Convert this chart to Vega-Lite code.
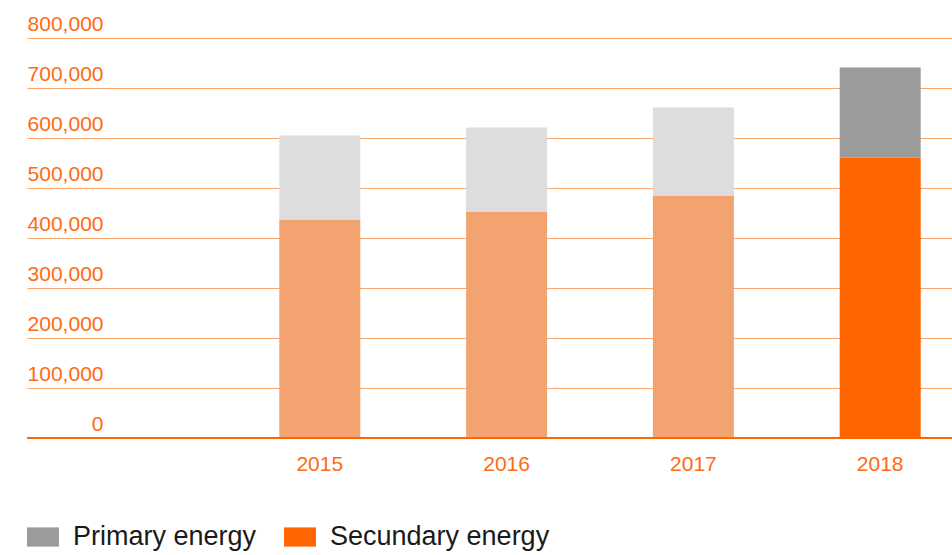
{
  "$schema": "https://vega.github.io/schema/vega-lite/v6.json",
  "autosize": {"type": "none"},
  "padding": {"left": 27, "top": 38, "right": 0, "bottom": 117},
  "width": 925,
  "height": 400,
  "background": "#ffffff",
  "config": {
    "view": {"stroke": null},
    "font": "Liberation Sans"
  },
  "data": {
    "values": [
      {"year": "2015", "series": "Secundary energy (prior)", "value": 437000, "ord": 1},
      {"year": "2015", "series": "Primary energy (prior)", "value": 168000, "ord": 2},
      {"year": "2016", "series": "Secundary energy (prior)", "value": 453000, "ord": 1},
      {"year": "2016", "series": "Primary energy (prior)", "value": 168000, "ord": 2},
      {"year": "2017", "series": "Secundary energy (prior)", "value": 485000, "ord": 1},
      {"year": "2017", "series": "Primary energy (prior)", "value": 176000, "ord": 2},
      {"year": "2018", "series": "Secundary energy", "value": 561000, "ord": 1},
      {"year": "2018", "series": "Primary energy", "value": 180000, "ord": 2}
    ]
  },
  "layer": [
    {
      "mark": {"type": "bar"},
      "encoding": {
        "x": {
          "field": "year",
          "type": "ordinal",
          "scale": {"domain": ["2015", "2016", "2017", "2018"], "paddingInner": 0.5664, "paddingOuter": 0.7591, "align": 0.8896},
          "axis": {
            "title": null,
            "domain": false,
            "ticks": false,
            "labelAngle": 0,
            "labelFont": "Liberation Sans",
            "labelFontSize": 21,
            "labelColor": "#FF6A14",
            "labelPadding": 15
          }
        },
        "y": {
          "field": "value",
          "type": "quantitative",
          "stack": "zero",
          "scale": {"domain": [0, 800000], "nice": false},
          "axis": {
            "title": null,
            "values": [0, 100000, 200000, 300000, 400000, 500000, 600000, 700000, 800000],
            "format": ",d",
            "domain": false,
            "ticks": false,
            "tickSize": 0,
            "grid": true,
            "gridColor": "#F9A66C",
            "gridWidth": 1,
            "labelAlign": "right",
            "labelBaseline": "alphabetic",
            "labelPadding": -76,
            "labelOffset": -8,
            "labelFont": "Liberation Sans",
            "labelFontSize": 21,
            "labelColor": "#FF6A14"
          }
        },
        "order": {"field": "ord", "type": "quantitative"},
        "color": {
          "field": "series",
          "type": "nominal",
          "scale": {
            "domain": ["Primary energy", "Secundary energy", "Primary energy (prior)", "Secundary energy (prior)"],
            "range": ["#9B9B9B", "#FF6600", "#DDDDDD", "#F2A36F"]
          },
          "legend": {
            "title": null,
            "values": ["Primary energy", "Secundary energy"],
            "orient": "none",
            "direction": "horizontal",
            "legendX": 0,
            "legendY": 483,
            "padding": 0,
            "symbolType": "M-1,-0.6H1V0.6H-1Z",
            "symbolSize": 1024,
            "symbolStrokeWidth": 0,
            "labelFont": "Liberation Sans",
            "labelFontSize": 27,
            "labelLimit": 500,
            "labelColor": "#1a1a1a",
            "labelOffset": 14,
            "columnPadding": 27
          }
        }
      }
    },
    {
      "data": {"values": [{"base": 0}]},
      "mark": {"type": "rule", "color": "#FF6600", "strokeWidth": 2},
      "encoding": {
        "y": {"field": "base", "type": "quantitative"}
      }
    }
  ]
}
